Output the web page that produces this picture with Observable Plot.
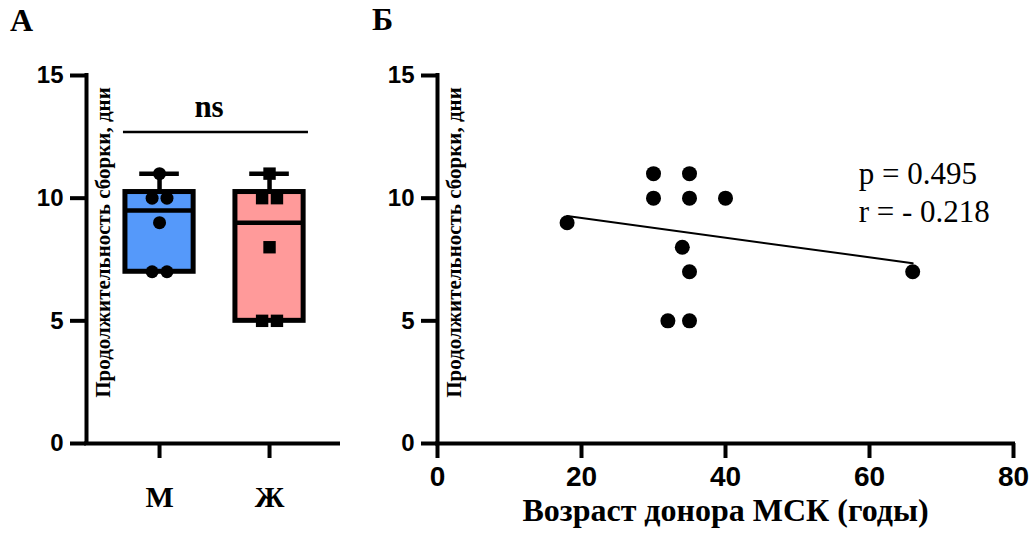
<!DOCTYPE html>
<html>
<head>
<meta charset="utf-8">
<script src="https://cdn.jsdelivr.net/npm/d3@7"></script>
<script src="https://cdn.jsdelivr.net/npm/@observablehq/plot@0.6"></script>
<style>
  html, body { margin: 0; padding: 0; background: #fff; }
  #wrap { position: relative; width: 1029px; height: 535px; overflow: hidden; background: #fff; }
  #wrap > svg { position: absolute; top: 0; }
  .panel-letter { position: absolute; font-family: "Liberation Serif", serif; font-weight: bold; font-size: 32px; line-height: 1; color: #000; }
</style>
</head>
<body>
<div id="wrap">
  <div class="panel-letter" style="left:10px; top:4px;">А</div>
  <div class="panel-letter" style="left:372px; top:3px;">Б</div>
</div>
<script>
// ---------- data ----------
const groups = ["М", "Ж"];
const maleDays = [11, 10, 10, 9, 7, 7];
const femaleDays = [11, 10, 10, 8, 5, 5];
const groupFill = ["#5599FA", "#FF9A9A"];
const sigLabel = "ns";

const donorAge = [18, 30, 35, 30, 35, 40, 34, 35, 32, 35, 66];
const assemblyDays = [9, 11, 11, 10, 10, 10, 8, 7, 5, 5, 7];
const fitAge = [18, 66];
const fitDays = [9.27, 7.35];
const statLabels = ["p = 0.495", "r = - 0.218"];

const yTicks = [0, 5, 10, 15];
const ageTicks = [0, 20, 40, 60, 80];
const yLabel = "Продолжительность сборки, дни";
const xLabelB = "Возраст донора МСК (годы)";

// ---------- helpers ----------
const serif = "Liberation Serif, Times New Roman, serif";
const sans = "Liberation Sans, Arial, sans-serif";

// Prism-style quartiles ((n+1)p positioning)
function quant(values, p) {
  const s = [...values].sort((a, b) => a - b);
  const n = s.length;
  let pos = (n + 1) * p;
  if (pos <= 1) return s[0];
  if (pos >= n) return s[n - 1];
  const lo = Math.floor(pos), f = pos - lo;
  return s[lo - 1] + f * (s[lo] - s[lo - 1]);
}
const groupValues = [maleDays, femaleDays];
const boxes = groupValues.map((v, k) => ({
  i: k + 1,
  q1: quant(v, 0.25), med: quant(v, 0.5), q3: quant(v, 0.75),
  min: d3.min(v), max: d3.max(v), fill: groupFill[k]
}));

// spread duplicate values side by side (column scatter)
function spread(values, i) {
  const out = [];
  const counts = d3.rollup(values, v => v.length, d => d);
  const seen = new Map();
  for (const v of values) {
    const n = counts.get(v);
    const k = seen.get(v) || 0;
    seen.set(v, k + 1);
    out.push({ x: i + (k - (n - 1) / 2) * 0.135, y: v });
  }
  return out;
}
const malePts = spread(maleDays, 1);
const femalePts = spread(femaleDays, 2);

const scatter = donorAge.map((a, k) => ({ age: a, days: assemblyDays[k] }));
const fit = fitAge.map((a, k) => ({ age: a, days: fitDays[k] }));

const xDomA = [0.336, 2.627];
const axisW = 4;
const boxW = 0.31, capW = 0.18;

// ---------- panel A ----------
const plotA = Plot.plot({
  width: 345, height: 535,
  marginLeft: 86, marginRight: 7, marginTop: 75, marginBottom: 92,
  x: { domain: xDomA },
  y: { domain: [0, 15] },
  color: { type: "identity" },
  style: { fontFamily: sans, fontWeight: "bold", background: "transparent", overflow: "visible" },
  marks: [
    Plot.rect(boxes, { x1: d => d.i - boxW, x2: d => d.i + boxW, y1: "q1", y2: "q3", fill: "fill", stroke: "black", strokeWidth: 5 }),
    Plot.ruleY(boxes, { y: "med", x1: d => d.i - boxW, x2: d => d.i + boxW, stroke: "black", strokeWidth: 4.5 }),
    Plot.ruleX(boxes, { x: "i", y1: "q3", y2: "max", stroke: "black", strokeWidth: 4.5 }),
    Plot.ruleX(boxes, { x: "i", y1: "min", y2: "q1", stroke: "black", strokeWidth: 4.5 }),
    Plot.ruleY(boxes, { y: "max", x1: d => d.i - capW, x2: d => d.i + capW, stroke: "black", strokeWidth: 4.5 }),
    Plot.dot(malePts, { x: "x", y: "y", r: 6.5, fill: "black", symbol: "circle" }),
    Plot.dot(femalePts, { x: "x", y: "y", r: 7, fill: "black", symbol: "square" }),
    // significance bracket
    Plot.ruleY([12.7], { x1: 0.672, x2: 2.354, stroke: "black", strokeWidth: 2.5 }),
    Plot.text([sigLabel], { x: 1.45, y: 13.7, fontFamily: serif, fontWeight: "bold", fontSize: 31, fill: "black" }),
    // axes
    Plot.axisY({ ticks: yTicks, tickSize: 16, tickPadding: 7, strokeWidth: axisW, fontSize: 24, fontFamily: sans, fontWeight: "bold", label: null }),
    Plot.axisX({ ticks: [1, 2], tickFormat: d => groups[d - 1], tickSize: 15, tickPadding: 27, strokeWidth: axisW, fontSize: 30, fontFamily: serif, fontWeight: "bold", label: null }),
    Plot.ruleX([xDomA[0]], { y1: 0, y2: 15, stroke: "black", strokeWidth: axisW, strokeLinecap: "square" }),
    Plot.ruleY([0], { x1: xDomA[0], x2: xDomA[1], stroke: "black", strokeWidth: axisW, strokeLinecap: "square" }),
    Plot.text([yLabel], { frameAnchor: "left", rotate: -90, dx: 17, dy: -17, textAnchor: "middle", lineAnchor: "middle", fontFamily: serif, fontWeight: "bold", fontSize: 21, fill: "black" })
  ]
});
plotA.style.left = "0px";
document.getElementById("wrap").appendChild(plotA);

// ---------- panel Б ----------
const plotB = Plot.plot({
  width: 684, height: 535,
  marginLeft: 92, marginRight: 16, marginTop: 75, marginBottom: 92,
  x: { domain: [0, 80] },
  y: { domain: [0, 15] },
  style: { fontFamily: sans, fontWeight: "bold", background: "transparent", overflow: "visible" },
  marks: [
    Plot.line(fit, { x: "age", y: "days", stroke: "black", strokeWidth: 2 }),
    Plot.dot(scatter, { x: "age", y: "days", r: 7.5, fill: "black" }),
    Plot.text(statLabels, { x: () => 58.5, y: (d, i) => 11 - i * 1.57, textAnchor: "start", fontFamily: serif, fontWeight: "normal", fontSize: 31, fill: "black" }),
    Plot.axisY({ ticks: yTicks, tickSize: 16, tickPadding: 7, strokeWidth: axisW, fontSize: 24, fontFamily: sans, fontWeight: "bold", label: null }),
    Plot.axisX({ ticks: ageTicks, tickSize: 15, tickPadding: 8, strokeWidth: axisW, fontSize: 28, fontFamily: sans, fontWeight: "bold", label: null }),
    Plot.ruleX([0], { y1: 0, y2: 15, stroke: "black", strokeWidth: axisW, strokeLinecap: "square" }),
    Plot.ruleY([0], { x1: 0, x2: 80, stroke: "black", strokeWidth: axisW, strokeLinecap: "square" }),
    Plot.text([yLabel], { frameAnchor: "left", rotate: -90, dx: 17, dy: -17, textAnchor: "middle", lineAnchor: "middle", fontFamily: serif, fontWeight: "bold", fontSize: 21, fill: "black" }),
    Plot.text([xLabelB], { frameAnchor: "bottom", dy: 77, fontFamily: serif, fontWeight: "bold", fontSize: 32, fill: "black" })
  ]
});
plotB.style.left = "345px";
document.getElementById("wrap").appendChild(plotB);
</script>
</body>
</html>
